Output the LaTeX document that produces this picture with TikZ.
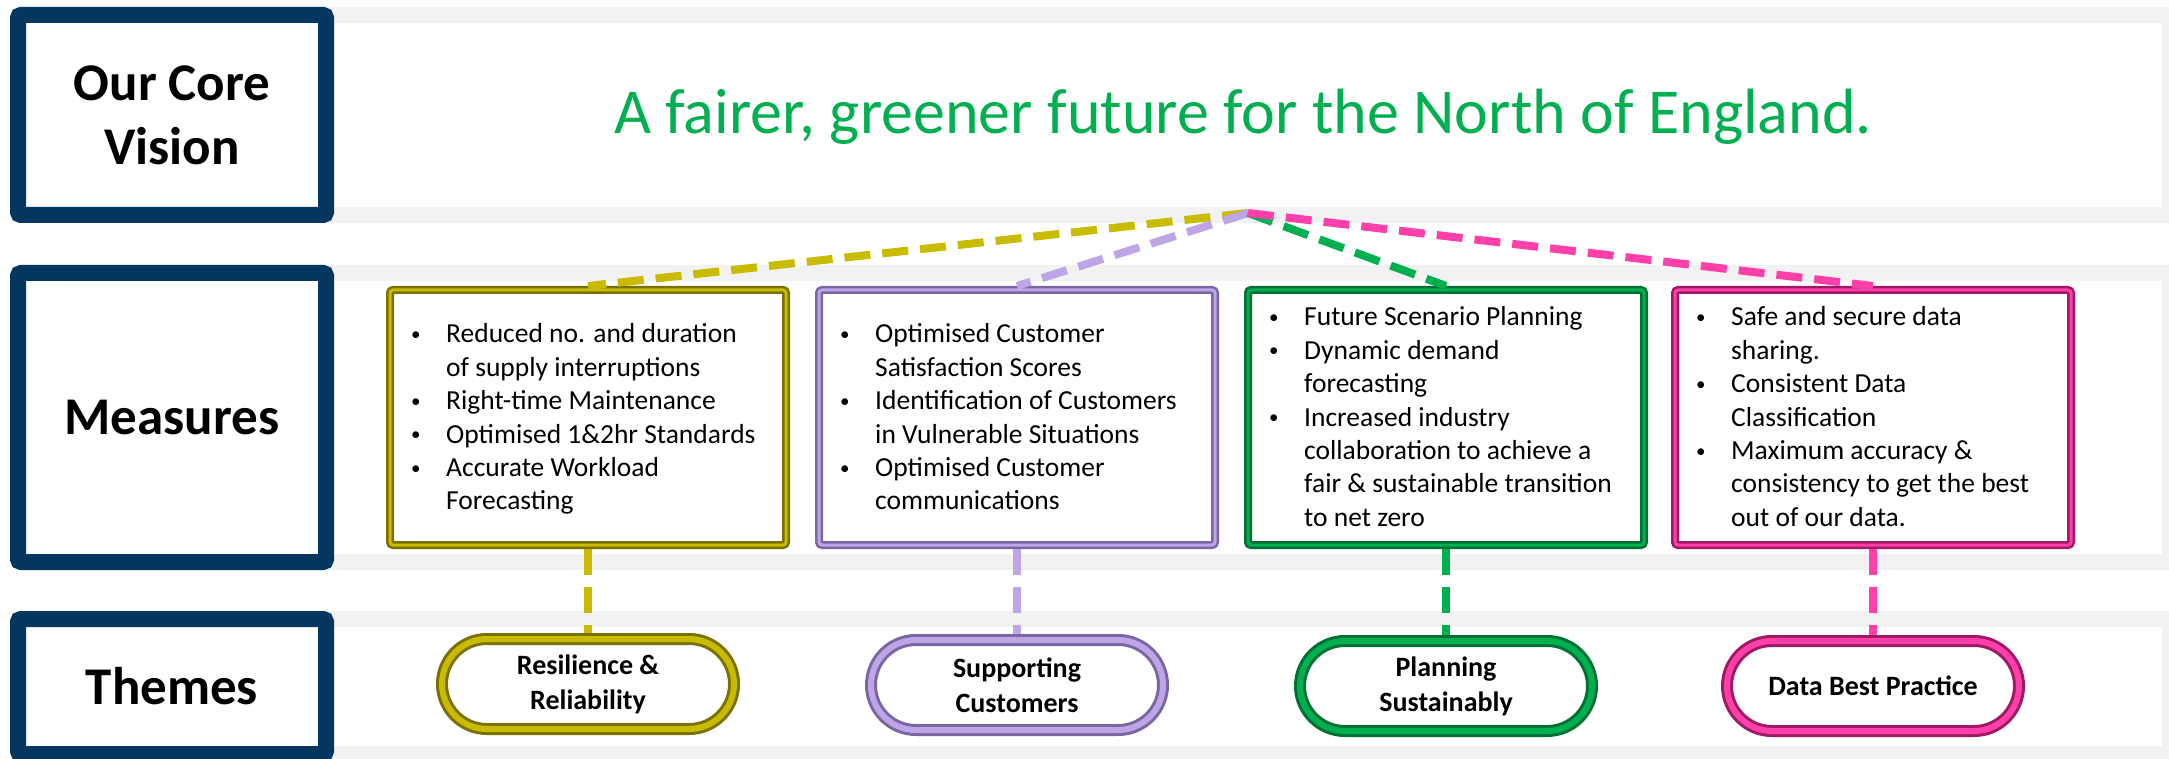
\documentclass[tikz,border=0pt]{standalone}
\usepackage{fontspec}
\setmainfont{Carlito}

\definecolor{navy}{RGB}{3,55,95}
\definecolor{band}{RGB}{242,242,242}
\definecolor{vgreen}{RGB}{0,176,80}
\definecolor{greendk}{RGB}{0,112,52}
\definecolor{olive}{RGB}{200,187,0}
\definecolor{olivedk}{RGB}{122,113,0}
\definecolor{lav}{RGB}{190,165,230}
\definecolor{lavdk}{RGB}{122,102,162}
\definecolor{pink}{RGB}{255,64,170}
\definecolor{pinkdk}{RGB}{160,25,100}

\newcommand{\bdot}{\raisebox{2.5pt}{\fontsize{19}{19}\selectfont\textbullet}}
\newcommand{\blist}[1]{{\fontsize{27.5}{33.4}\selectfont
  \begin{tabular}[t]{@{}p{35pt}@{}l@{}}#1\end{tabular}}}

\begin{document}
\begin{tikzpicture}[x=1pt,y=-1pt,
    navybox/.style={draw=navy, line width=16pt, rounded corners=3pt, fill=white,
      align=center, inner sep=0pt, minimum width=308pt,
      font=\bfseries\fontsize{53}{64}\selectfont},
    mbox/.style 2 args={draw=#1, line width=8pt, rounded corners=3pt, fill=white,
      minimum width=396pt, minimum height=255pt, postaction={draw=#2, line width=3pt}},
    pill/.style 2 args={draw=#1, line width=12pt, rounded corners=45pt, fill=white,
      minimum width=292pt, minimum height=90pt, inner sep=0pt, align=center,
      postaction={draw=#2, line width=6pt},
      font=\bfseries\fontsize{28}{35}\selectfont},
    listtext/.style={anchor=base west, inner sep=0pt},
    dashlink/.style={draw=#1, line width=8pt, dash pattern=on 26pt off 12pt}]
  \useasboundingbox (0,0) rectangle (2169,759);

  \fill[band] (320,7) rectangle (2178,223);
  \fill[white] (320,23) rectangle (2162,207);
  \fill[band] (320,265) rectangle (2178,570);
  \fill[white] (320,281) rectangle (2162,554);
  \fill[band] (320,611) rectangle (2178,762);
  \fill[white] (320,627) rectangle (2162,746);

  \node[navybox, minimum height=200pt] (vision) at (172,115) {Our Core\\Vision};
  \node[navybox, minimum height=289pt] (measures) at (172,417.5) {Measures};
  \node[navybox, minimum height=135pt] (themes) at (172,686.5) {Themes};

  \node[anchor=base, text=vgreen, font=\fontsize{64}{77}\selectfont] (goal) at (1243,134)
    {A fairer, greener future for the North of England.};
  \coordinate (apex) at (1248,213);

  \node[mbox={olivedk}{olive}] (m1) at (588,417.5) {};
  \node[mbox={lavdk}{lav}] (m2) at (1017,417.5) {};
  \node[mbox={greendk}{vgreen}] (m3) at (1446,417.5) {};
  \node[mbox={pinkdk}{pink}] (m4) at (1873,417.5) {};

  \node[listtext] (l1) at (411,343) {\blist{
    \bdot & Reduced no. and duration\\
          & of supply interruptions\\
    \bdot & Right-time Maintenance\\
    \bdot & Optimised 1\&2hr Standards\\
    \bdot & Accurate Workload\\
          & Forecasting}};
  \node[listtext] (l2) at (840,343) {\blist{
    \bdot & Optimised Customer\\
          & Satisfaction Scores\\
    \bdot & Identification of Customers\\
          & in Vulnerable Situations\\
    \bdot & Optimised Customer\\
          & communications}};
  \node[listtext] (l3) at (1269,326) {\blist{
    \bdot & Future Scenario Planning\\
    \bdot & Dynamic demand\\
          & forecasting\\
    \bdot & Increased industry\\
          & collaboration to achieve a\\
          & fair \& sustainable transition\\
          & to net zero}};
  \node[listtext] (l4) at (1696,326) {\blist{
    \bdot & Safe and secure data\\
          & sharing.\\
    \bdot & Consistent Data\\
          & Classification\\
    \bdot & Maximum accuracy \&\\
          & consistency to get the best\\
          & out of our data.}};

  \node[pill={olivedk}{olive}] (t1) at (588,684) {Resilience \&\\Reliability};
  \node[pill={lavdk}{lav}] (t2) at (1017,685) {Supporting\\Customers};
  \node[pill={greendk}{vgreen}] (t3) at (1446,686) {Planning\\Sustainably};
  \node[pill={pinkdk}{pink}] (t4) at (1873,686) {Data Best Practice};

  \draw[dashlink=olive] (apex) -- (m1.north);
  \draw[dashlink=lav] (apex) -- (m2.north);
  \draw[dashlink=vgreen] (apex) -- (m3.north);
  \draw[dashlink=pink] (apex) -- (m4.north);

  \draw[dashlink=olive] (m1.south) -- (t1.north);
  \draw[dashlink=lav] (m2.south) -- (t2.north);
  \draw[dashlink=vgreen] (m3.south) -- (t3.north);
  \draw[dashlink=pink] (m4.south) -- (t4.north);
\end{tikzpicture}
\end{document}
